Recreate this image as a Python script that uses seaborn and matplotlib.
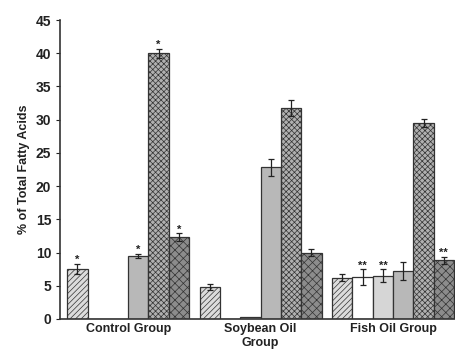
import numpy as np
import pandas as pd
import matplotlib
matplotlib.use("Agg")
import matplotlib.pyplot as plt
import seaborn as sns

groups = ["Control Group", "Soybean Oil\nGroup", "Fish Oil Group"]
series = ["S1", "S2", "S3", "S4", "S5", "S6"]
# values[group][series]
values = [
    [7.5, 0.0, 0.0, 9.5, 40.0, 12.3],
    [4.8, 0.0, 0.3, 22.8, 31.8, 10.0],
    [6.2, 6.3, 6.5, 7.2, 29.5, 8.8],
]
errors = [
    [0.8, 0.0, 0.0, 0.3, 0.7, 0.6],
    [0.4, 0.0, 0.0, 1.3, 1.2, 0.5],
    [0.5, 1.2, 1.0, 1.3, 0.6, 0.6],
]
marks = [
    ["*", "", "", "*", "*", "*"],
    ["", "", "", "", "", ""],
    ["", "**", "**", "", "", "**"],
]
yticks = [0, 5, 10, 15, 20, 25, 30, 35, 40, 45]

facecolors = ["#dcdcdc", "#ffffff", "#d6d6d6", "#b8b8b8", "#b0b0b0", "#8c8c8c"]
hatches = ["//////", "", "", "", "xxxxxx", "xxxx"]

rows = []
for gi, g in enumerate(groups):
    for si, s in enumerate(series):
        rows.append({"group": g, "series": s, "value": values[gi][si]})
df = pd.DataFrame(rows)

sns.set_style("ticks")
plt.rcParams["font.family"] = ["Liberation Sans", "DejaVu Sans"]
plt.rcParams["hatch.linewidth"] = 0.5

fig = plt.figure(figsize=(4.56, 3.54), dpi=100)
ax = fig.add_axes([0.132, 0.099, 0.868, 0.8445])

sns.barplot(data=df, x="group", y="value", hue="series", order=groups,
            hue_order=series, palette=facecolors, width=0.92, gap=0,
            edgecolor="#333333", linewidth=0.9, legend=False, ax=ax,
            errorbar=None)

bars = [p for p in ax.patches]
# seaborn orders patches hue-level first, then group
for si in range(len(series)):
    for gi in range(len(groups)):
        p = bars[si * len(groups) + gi]
        p.set_facecolor(facecolors[si])
        p.set_hatch(hatches[si])
        p.set_edgecolor("#333333")
        v = values[gi][si]
        e = errors[gi][si]
        xc = p.get_x() + p.get_width() / 2
        if e > 0:
            ax.errorbar(xc, v, yerr=e, fmt="none", ecolor="#222222",
                        elinewidth=0.9, capsize=2.5, capthick=0.9)
        if marks[gi][si]:
            ax.text(xc, v + e - 0.2, marks[gi][si], ha="center", va="bottom",
                    fontsize=8, fontweight="bold", color="#222222")

ax.set_ylim(0, 45)
ax.set_yticks(yticks)
ax.set_xlim(-0.513, 2.475)
ax.set_xlabel("")
ax.set_ylabel("% of Total Fatty Acids", fontsize=9, fontweight="bold", color="#222222")
ax.tick_params(axis="x", length=0, labelsize=9, colors="#222222", pad=3)
ax.tick_params(axis="y", length=3, labelsize=10, colors="#222222")
for lab in ax.get_xticklabels() + ax.get_yticklabels():
    lab.set_fontweight("bold")
for sp in ["top", "right"]:
    ax.spines[sp].set_visible(False)
for sp in ["left", "bottom"]:
    ax.spines[sp].set_color("#333333")
    ax.spines[sp].set_linewidth(1.2)

fig.savefig("out.png", dpi=100)
